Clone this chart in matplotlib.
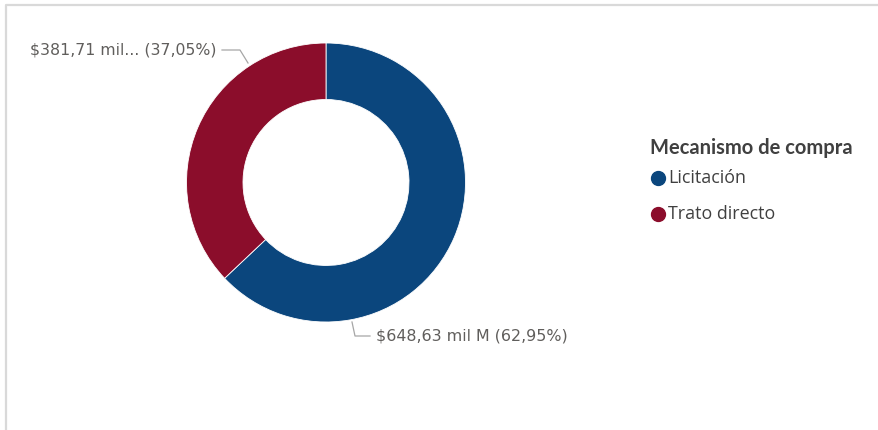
import matplotlib.pyplot as plt

# data
categories = ['Licitación', 'Trato directo']
values = [648.63, 381.71]
labels = ['$648,63 mil M (62,95%)', '$381,71 mil... (37,05%)']
colors = ['#0B467D', '#8B0D2B']
legend_title = 'Mecanismo de compra'

W, H = 879, 430

fig = plt.figure(figsize=(W / 100, H / 100), dpi=100)
ax = fig.add_axes([0, 0, 1, 1])

# work in image pixel coords (y measured from top)
def Y(y):
    return H - y

# frame (top + left edge of the visual)
ax.plot([6, 6, W], [Y(H), Y(5), Y(5)], color='#d9d9d9', lw=1.6, solid_capstyle='butt')

# donut
cx, cy, r = 326, 182.5, 139.5
ax.pie(values, colors=colors, startangle=90, counterclock=False,
       center=(cx, Y(cy)), radius=r, frame=True,
       wedgeprops=dict(width=r * 0.405, edgecolor='white', linewidth=0.6))
ax.set_xlim(0, W)
ax.set_ylim(0, H)
ax.axis('off')

label_color = '#605E5C'
lead_color = '#a6a6a6'

# red label (upper left)
ax.plot([222, 240, 248], [Y(50), Y(50), Y(63)], color=lead_color, lw=0.9)
ax.text(217, Y(50), labels[1], ha='right', va='center', fontsize=11.3,
        color=label_color, family='DejaVu Sans')

# blue label (bottom)
ax.plot([352, 355, 370], [Y(322), Y(336), Y(336)], color=lead_color, lw=0.9)
ax.text(376, Y(336), labels[0], ha='left', va='center', fontsize=11.4,
        color=label_color, family='DejaVu Sans')

# legend
ax.text(650, Y(148), legend_title, ha='left', va='center', fontsize=14.5,
        fontweight='bold', color='#404040', family='Lato')
for i, (cat, col) in enumerate(zip(categories, colors)):
    yy = 178 + i * 36
    ax.scatter([658], [Y(yy)], s=100, color=col, zorder=3)
    ax.text(668, Y(yy), cat, ha='left', va='center', fontsize=12.9,
            color='#404040', family='Open Sans')

fig.savefig('out.png', dpi=100)
